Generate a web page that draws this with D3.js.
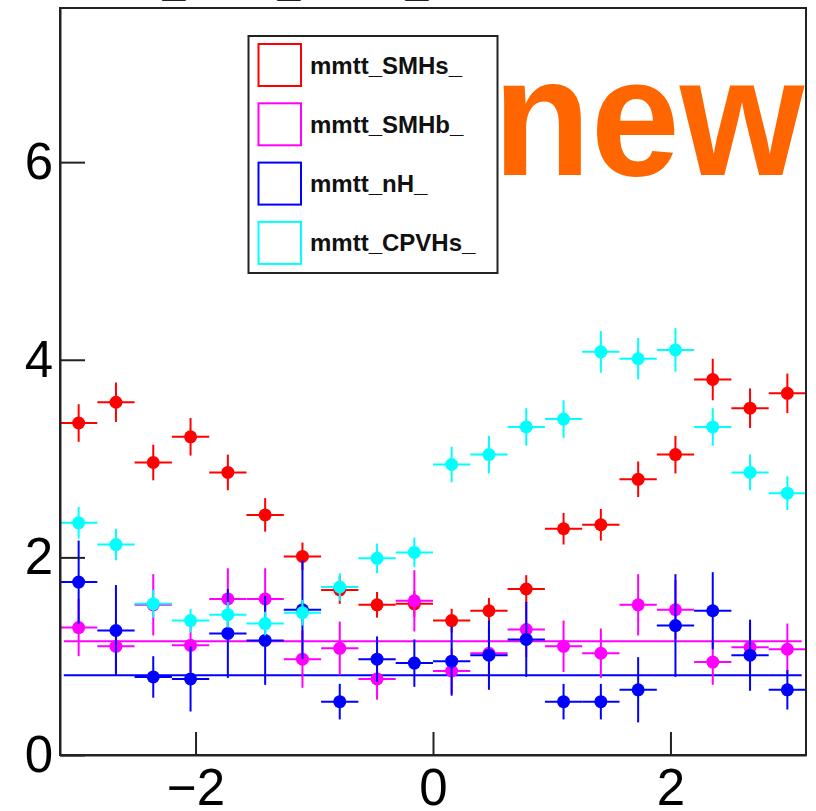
<!DOCTYPE html>
<html>
<head>
<meta charset="utf-8">
<script src="https://cdn.jsdelivr.net/npm/d3@7"></script>
<style>
  html, body { margin: 0; padding: 0; background: #fff; }
  svg { display: block; }
  text { font-family: "Liberation Sans", Arial, Helvetica, sans-serif; }
</style>
</head>
<body>
<svg id="chart" width="816" height="811"></svg>
<script>
// 20 bins spanning [-pi, pi]
const nBins = 20;
const xRange = [-Math.PI, Math.PI];

const seriesNames = ["mmtt_SMHs_", "mmtt_SMHb_", "mmtt_nH_", "mmtt_CPVHs_"];
const seriesColors = ["#ff0000", "#ff00ff", "#0000ff", "#00ffff"];

const smhsValues = [3.36, 3.57, 2.96, 3.22, 2.86, 2.43, 2.01, 1.67, 1.52, 1.53, 1.36, 1.46, 1.68, 2.29, 2.33, 2.79, 3.04, 3.80, 3.51, 3.66];
const smhsErrors = [0.19, 0.20, 0.18, 0.19, 0.18, 0.17, 0.14, 0.14, 0.13, 0.13, 0.12, 0.13, 0.14, 0.16, 0.16, 0.18, 0.19, 0.21, 0.20, 0.20];

const smhbValues = [1.29, 1.10, 1.52, 1.11, 1.58, 1.58, 0.97, 1.08, 0.77, 1.56, 0.85, 1.03, 1.27, 1.10, 1.03, 1.52, 1.47, 0.94, 1.09, 1.07];
const smhbErrors = [0.29, 0.27, 0.31, 0.27, 0.31, 0.31, 0.29, 0.27, 0.21, 0.31, 0.23, 0.26, 0.28, 0.26, 0.25, 0.31, 0.30, 0.23, 0.26, 0.26];

const nhValues = [1.75, 1.26, 0.79, 0.77, 1.23, 1.16, 1.47, 0.54, 0.97, 0.93, 0.95, 1.01, 1.17, 0.54, 0.54, 0.66, 1.31, 1.46, 1.01, 0.66];
const nhErrors = [0.42, 0.46, 0.21, 0.33, 0.45, 0.45, 0.50, 0.18, 0.23, 0.24, 0.35, 0.35, 0.38, 0.18, 0.18, 0.33, 0.52, 0.39, 0.36, 0.20];

const cpvhsValues = [2.35, 2.13, 1.53, 1.36, 1.42, 1.33, 1.44, 1.70, 1.99, 2.05, 2.94, 3.04, 3.32, 3.40, 4.08, 4.01, 4.10, 3.32, 2.86, 2.65];
const cpvhsErrors = [0.16, 0.16, 0.14, 0.12, 0.13, 0.12, 0.13, 0.14, 0.15, 0.15, 0.18, 0.19, 0.19, 0.19, 0.21, 0.21, 0.22, 0.19, 0.18, 0.17];

// constant fits (SMHb and nH)
const fitLevels = [{ value: 1.151, color: "#ff00ff" }, { value: 0.807, color: "#0000ff" }];
const fitRange = [-3.11, 3.105];

const xTicks = [-2, 0, 2];
const yTicks = [0, 2, 4, 6];
const yMax = 7.56;

const seriesValues = [smhsValues, smhbValues, nhValues, cpvhsValues];
const seriesErrors = [smhsErrors, smhbErrors, nhErrors, cpvhsErrors];

const frame = { left: 60, top: 8, right: 806, bottom: 755 };

const svg = d3.select("#chart");

const x = d3.scaleLinear().domain(xRange).range([frame.left, frame.right]);
const y = d3.scaleLinear().domain([0, yMax]).range([frame.bottom, frame.top]);
const binW = (xRange[1] - xRange[0]) / nBins;
const binCenter = i => xRange[0] + (i + 0.5) * binW;

// title underscores peeking in above the frame
[174, 289, 417].forEach(cx => {
  svg.append("text").attr("x", cx).attr("y", -4)
    .attr("text-anchor", "middle").attr("font-size", 41).attr("font-weight", "bold")
    .attr("fill", "#222").text("_");
});

// fit lines
svg.append("g").selectAll("line").data(fitLevels).join("line")
  .attr("x1", x(fitRange[0])).attr("x2", x(fitRange[1]))
  .attr("y1", d => y(d.value)).attr("y2", d => y(d.value))
  .attr("stroke", d => d.color).attr("stroke-width", 2);

// data points with error bars
seriesValues.forEach((vals, s) => {
  const errs = seriesErrors[s];
  const color = seriesColors[s];
  const pts = vals.map((v, i) => ({ i, v, e: errs[i] }));
  const g = svg.append("g");
  g.selectAll("line.h").data(pts).join("line").attr("class", "h")
    .attr("x1", d => x(binCenter(d.i) - binW / 2)).attr("x2", d => x(binCenter(d.i) + binW / 2))
    .attr("y1", d => y(d.v)).attr("y2", d => y(d.v))
    .attr("stroke", color).attr("stroke-width", 2);
  g.selectAll("line.v").data(pts).join("line").attr("class", "v")
    .attr("x1", d => x(binCenter(d.i))).attr("x2", d => x(binCenter(d.i)))
    .attr("y1", d => y(d.v - d.e)).attr("y2", d => y(d.v + d.e))
    .attr("stroke", color).attr("stroke-width", 2);
  g.selectAll("circle").data(pts).join("circle")
    .attr("cx", d => x(binCenter(d.i))).attr("cy", d => y(d.v))
    .attr("r", 6.5).attr("fill", color);
});

// frame
svg.append("rect")
  .attr("x", frame.left).attr("y", frame.top)
  .attr("width", frame.right - frame.left).attr("height", frame.bottom - frame.top)
  .attr("fill", "none").attr("stroke", "#222").attr("stroke-width", 2);

// axes
const xAxis = d3.axisBottom(x).tickValues(xTicks).tickFormat(d3.format("d"))
  .tickSizeInner(-23).tickSizeOuter(0).tickPadding(14);
const gx = svg.append("g").attr("transform", `translate(0,${frame.bottom})`).call(xAxis);
const yAxis = d3.axisLeft(y).tickValues(yTicks).tickFormat(d3.format("d"))
  .tickSizeInner(-25).tickSizeOuter(0).tickPadding(7);
const gy = svg.append("g").attr("transform", `translate(${frame.left},0)`).call(yAxis);
[gx, gy].forEach(g => {
  g.select(".domain").attr("stroke", "#222").attr("stroke-width", 2);
  g.selectAll(".tick line").attr("stroke", "#222").attr("stroke-width", 2);
  g.selectAll(".tick text").attr("font-size", 51).attr("fill", "#000")
    .attr("font-family", "Liberation Sans, Arial, sans-serif");
});

// legend
const legend = { x: 248.5, y: 36, w: 249, h: 237, row0: 65, rowStep: 59.3 };
svg.append("rect").attr("x", legend.x).attr("y", legend.y)
  .attr("width", legend.w).attr("height", legend.h)
  .attr("fill", "#fff").attr("stroke", "#222").attr("stroke-width", 2);
const lg = svg.append("g").selectAll("g").data(seriesNames).join("g")
  .attr("transform", (d, i) => `translate(0,${legend.row0 + i * legend.rowStep})`);
lg.append("rect").attr("x", 258.5).attr("y", -21).attr("width", 42.5).attr("height", 42)
  .attr("fill", "none").attr("stroke", (d, i) => seriesColors[i]).attr("stroke-width", 2);
lg.append("text").attr("x", 310).attr("y", 8.5)
  .attr("font-size", 24).attr("font-weight", "bold").attr("fill", "#111").text(d => d);

// overlay label
svg.append("text").attr("transform", "translate(493,175) scale(1,1.06)")
  .attr("font-size", 160).attr("font-weight", "bold").attr("fill", "#ff6600").text("new");
</script>
</body>
</html>
